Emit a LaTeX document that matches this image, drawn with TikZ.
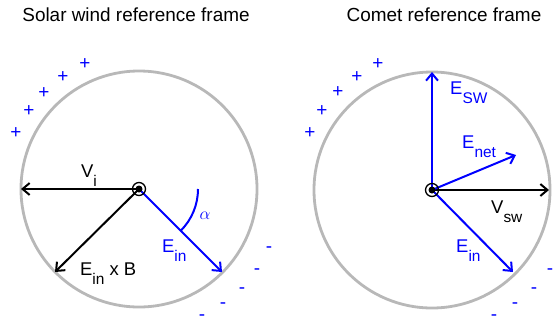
\documentclass[tikz,border=0pt]{standalone}
\usepackage{fontspec}
\setmainfont{Liberation Sans}
\usetikzlibrary{arrows.meta}
\newcommand{\lowsub}[1]{\raisebox{-9bp}{\fontsize{15.5}{15.5}\selectfont #1}}
\tikzset{
  vecarr/.style={-{Straight Barb[length=2.5mm,width=4.2mm]},line width=2bp},
  rim/.style={draw=black!28,line width=2.8bp},
  lbl/.style={anchor=base west,inner sep=0pt,font=\fontsize{18.5}{18.5}\selectfont},
  charge/.style={text=blue,inner sep=0pt,font=\fontsize{19}{19}\selectfont},
  ttl/.style={anchor=base,inner sep=0pt,font=\fontsize{19}{19}\selectfont},
  pole/.style={draw=black,line width=1.3bp}
}

\begin{document}
\begin{tikzpicture}[x=1bp,y=-1bp]
\useasboundingbox (0,0) rectangle (556,327);

% titles
\node[ttl] (ttlsw) at (136,21) {Solar wind reference frame};
\node[ttl] (ttlcm) at (444,21) {Comet reference frame};

% solar wind frame
\coordinate (sw) at (139,189);
\draw[rim] (sw) circle[radius=118];
\coordinate (vi) at (21,189);
\coordinate (exb) at (55,272);
\coordinate (ein) at (222,272);
\draw[vecarr] (sw) -- (vi);
\draw[vecarr] (sw) -- (exb);
\draw[vecarr,blue] (sw) -- (ein);
\draw[blue,line width=2bp] (198,189) arc[start angle=0,end angle=45,radius=59];
\node[text=blue,inner sep=0pt,font=\fontsize{19}{19}\selectfont] (alpha) at (205,216) {$\alpha$};
\node[lbl] (vilbl) at (81,177) {V\lowsub{i}};
\node[lbl,text=blue] (einlbl) at (162,252) {E\lowsub{in}};
\node[lbl] (exblbl) at (80,275) {E\lowsub{in} x B};
\draw[pole] (sw) circle[radius=6.5];
\fill (sw) circle[radius=3.5];

% comet frame
\coordinate (cm) at (432,190);
\draw[rim] (cm) circle[radius=118];
\coordinate (esw) at (432,72);
\coordinate (enet) at (516,155);
\coordinate (vsw) at (549,190);
\coordinate (ein2) at (513,272);
\draw[vecarr] (cm) -- (vsw);
\draw[vecarr,blue] (cm) -- (esw);
\draw[vecarr,blue] (cm) -- (enet);
\draw[vecarr,blue] (cm) -- (ein2);
\node[lbl,text=blue] (eswlbl) at (450,94) {E\lowsub{SW}};
\node[lbl,text=blue] (enetlbl) at (462,148) {E\lowsub{net}};
\node[lbl] (vswlbl) at (491,213) {V\lowsub{sw}};
\node[lbl,text=blue] (ein2lbl) at (456,252) {E\lowsub{in}};
\draw[pole] (cm) circle[radius=6.5];
\fill (cm) circle[radius=3.5];

% charges
\foreach \px/\py [count=\i] in {16/133,29/111,44/93,63/77,85/64,
                                310/133,322/111,338/92,357/77,378/64}
  \node[charge] (plus\i) at (\px,\py) {+};
\foreach \mx/\my [count=\i] in {269/250,257/272,242/291,223/306,202/318,
                                550/272,534/291,515/306,494/318}
  \node[charge] (minus\i) at (\mx,\my) {-};
\end{tikzpicture}
\end{document}
